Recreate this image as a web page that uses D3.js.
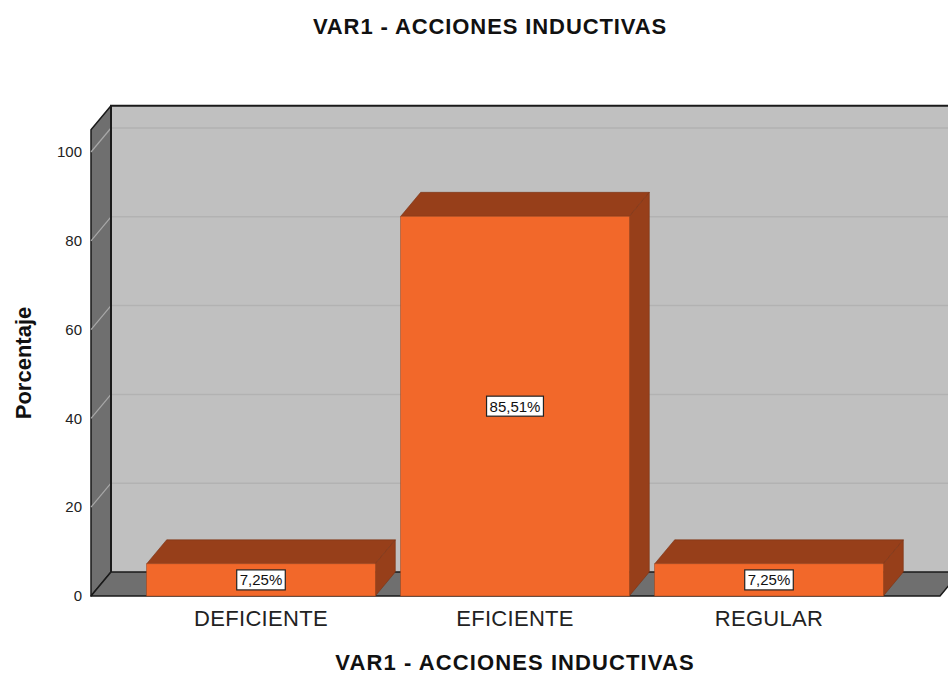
<!DOCTYPE html>
<html><head><meta charset="utf-8">
<script src="https://cdn.jsdelivr.net/npm/d3@7"></script>
<style>body{margin:0;background:#fff}svg{display:block}text{font-family:"Liberation Sans",Arial,sans-serif}</style>
</head><body><svg id="c" width="948" height="676"></svg>
<script>
const categories = ["DEFICIENTE", "EFICIENTE", "REGULAR"];
const values = [7.25, 85.51, 7.25];
const labels = ["7,25%", "85,51%", "7,25%"];
const yTicks = [0, 20, 40, 60, 80, 100];
const title = "VAR1 - ACCIONES INDUCTIVAS";
const xTitle = "VAR1 - ACCIONES INDUCTIVAS";
const yTitle = "Porcentaje";

const svg = d3.select("#c");
const W = 948, H = 676;
const dx = 20, dy = -24;
const x0 = 91, xEnd = 940;
const y = d3.scaleLinear().domain([0, 100]).range([596, 152]);
const yTop = 105;
const x = d3.scaleBand().domain(categories).range([134, 896]).paddingInner(0.1).paddingOuter(0.05);

const line = d3.line();
// back wall
svg.append("path").attr("d", line([[x0+dx, y(yTop)+dy],[W+20, y(yTop)+dy],[W+20, y(0)+dy],[x0+dx, y(0)+dy]])+"Z").attr("fill", "#c0c0c0");
// gridlines on back wall
svg.append("g").selectAll("line").data(yTicks.filter(d=>d>0)).join("line")
  .attr("x1", x0+dx).attr("x2", W).attr("y1", d=>y(d)+dy).attr("y2", d=>y(d)+dy)
  .attr("stroke", "#b2b2b2").attr("stroke-width", 1.5);
// left wall
svg.append("path").attr("d", line([[x0, y(yTop)],[x0+dx, y(yTop)+dy],[x0+dx, y(0)+dy],[x0, y(0)]])+"Z")
  .attr("fill", "#6f6f6f").attr("stroke", "#1a1a1a").attr("stroke-width", 1.5).attr("stroke-linejoin","round");
// diagonal gridlines on left wall
svg.append("g").selectAll("line").data(yTicks.filter(d=>d>0)).join("line")
  .attr("x1", x0).attr("x2", x0+dx).attr("y1", d=>y(d)).attr("y2", d=>y(d)+dy)
  .attr("stroke", "#a8a8a8").attr("stroke-width", 1.2);
// floor
svg.append("path").attr("d", line([[x0, y(0)],[x0+dx, y(0)+dy],[xEnd+dx, y(0)+dy],[xEnd, y(0)]])+"Z")
  .attr("fill", "#6f6f6f").attr("stroke", "#1a1a1a").attr("stroke-width", 1.5).attr("stroke-linejoin","round");
// back wall top edge and left edge
svg.append("path").attr("d", line([[x0+dx, y(0)+dy],[x0+dx, y(yTop)+dy],[W+20, y(yTop)+dy]]))
  .attr("fill", "none").attr("stroke", "#1a1a1a").attr("stroke-width", 2);

// y axis labels
svg.append("g").selectAll("text").data(yTicks).join("text")
  .attr("x", 82).attr("y", d=>y(d)).attr("dy", "0.35em").attr("text-anchor", "end")
  .attr("font-size", 15).attr("fill", "#222").text(d=>d);

// bars
const data = categories.map((c,i)=>({c, v: values[i], l: labels[i]}));
const bars = svg.append("g").selectAll("g").data(data).join("g");
const bw = x.bandwidth();
bars.append("path").attr("d", d=>line([[x(d.c), y(d.v)],[x(d.c)+dx, y(d.v)+dy],[x(d.c)+bw+dx, y(d.v)+dy],[x(d.c)+bw, y(d.v)]])+"Z")
  .attr("fill", "#973f1a").attr("stroke", "#7a3214").attr("stroke-width", 0.6);
bars.append("path").attr("d", d=>line([[x(d.c)+bw, y(d.v)],[x(d.c)+bw+dx, y(d.v)+dy],[x(d.c)+bw+dx, y(0)+dy],[x(d.c)+bw, y(0)]])+"Z")
  .attr("fill", "#973f1a").attr("stroke", "#7a3214").attr("stroke-width", 0.6);
bars.append("rect").attr("x", d=>x(d.c)).attr("y", d=>y(d.v)).attr("width", bw).attr("height", d=>y(0)-y(d.v))
  .attr("fill", "#f2682a").attr("stroke", "#a8481c").attr("stroke-width", 0.6);

// value labels
bars.each(function(d){
  const g = d3.select(this);
  const cx = x(d.c) + bw/2, cy = (y(d.v)+y(0))/2;
  const t = g.append("text").attr("x", cx).attr("y", cy).attr("dy", "0.36em").attr("text-anchor", "middle")
    .attr("font-size", 15).attr("fill", "#111").text(d.l);
  const bb = t.node().getBBox();
  g.insert("rect", "text").attr("x", bb.x-3).attr("y", cy-10).attr("width", bb.width+6).attr("height", 20)
    .attr("fill", "#fff").attr("stroke", "#222").attr("stroke-width", 1.2);
});

// category labels
svg.append("g").selectAll("text").data(categories).join("text")
  .attr("x", d=>x(d)+bw/2).attr("y", 626).attr("text-anchor", "middle")
  .attr("font-size", 22).attr("letter-spacing", 0.3).attr("fill", "#222").text(d=>d);

// titles
svg.append("text").attr("x", 490).attr("y", 34).attr("text-anchor", "middle")
  .attr("font-size", 22).attr("font-weight", "bold").attr("letter-spacing", 0.9).attr("fill", "#111").text(title);
svg.append("text").attr("x", 515).attr("y", 670).attr("text-anchor", "middle")
  .attr("font-size", 22).attr("font-weight", "bold").attr("letter-spacing", 1.1).attr("fill", "#111").text(xTitle);
svg.append("text").attr("transform", "translate(31,363) rotate(-90)").attr("text-anchor", "middle")
  .attr("font-size", 22).attr("font-weight", "bold").attr("fill", "#111").text(yTitle);
</script></body></html>
